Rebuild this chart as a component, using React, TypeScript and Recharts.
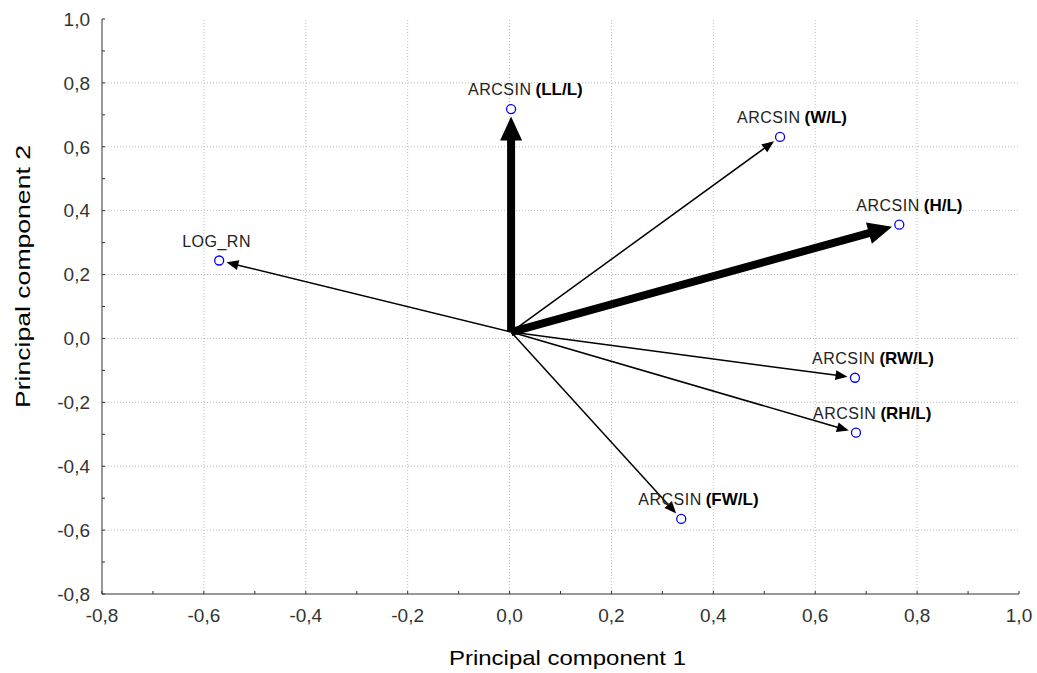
import React from 'react';
import { ScatterChart, Scatter, XAxis, YAxis, ReferenceLine, Label } from 'recharts';

const FONT = 'Arial, "Liberation Sans", sans-serif';

// loadings on the first two principal components
const labelPrefix = ['ARCSIN', 'ARCSIN', 'ARCSIN', 'LOG_RN', 'ARCSIN', 'ARCSIN', 'ARCSIN'];
const labelSuffix = ['(LL/L)', '(W/L)', '(H/L)', '', '(RW/L)', '(RH/L)', '(FW/L)'];
const pc1 = [0.003, 0.531, 0.765, -0.57, 0.678, 0.68, 0.337];
const pc2 = [0.718, 0.631, 0.356, 0.244, -0.123, -0.295, -0.565];
const strongVector = [true, false, true, false, false, false, false];

const vectorOrigin = { x: 0.003, y: 0.02 };

const axisTicks = [-0.8, -0.7, -0.6, -0.5, -0.4, -0.3, -0.2, -0.1, 0, 0.1, 0.2, 0.3, 0.4, 0.5, 0.6, 0.7, 0.8, 0.9, 1.0];
const gridValues = [-0.6, -0.4, -0.2, 0, 0.2, 0.4, 0.6, 0.8];

const points = pc1.map((x, i) => ({
  x,
  y: pc2[i],
  prefix: labelPrefix[i],
  suffix: labelSuffix[i],
  strong: strongVector[i],
}));

const fmt = (v: number) => {
  const k = Math.round(v * 10);
  if (k % 2 !== 0) return '';
  return (k / 10).toFixed(1).replace('.', ',');
};

const Arrow = (props: any) => {
  const { x1, y1, x2, y2, strokeWidth } = props;
  const thick = Number(strokeWidth) > 3;
  const dx = x2 - x1;
  const dy = y2 - y1;
  const len = Math.hypot(dx, dy) || 1;
  const ux = dx / len;
  const uy = dy / len;
  const gap = 7.5;
  const head = thick ? 24 : 12;
  const half = thick ? 11 : 5;
  const tipX = x2 - ux * gap;
  const tipY = y2 - uy * gap;
  const bx = tipX - ux * head;
  const by = tipY - uy * head;
  const px = -uy;
  const py = ux;
  return (
    <g>
      <line x1={x1} y1={y1} x2={bx + ux} y2={by + uy} stroke="#000" strokeWidth={strokeWidth} />
      <polygon
        points={`${tipX},${tipY} ${bx + px * half},${by + py * half} ${bx - px * half},${by - py * half}`}
        fill="#000"
      />
    </g>
  );
};

const VectorPoint = (props: any) => {
  const { cx, cy, payload } = props;
  const hasSuffix = payload.suffix !== '';
  return (
    <g>
      <circle cx={cx} cy={cy} r={4.5} fill="#fff" stroke="#0000ff" strokeWidth={1.3} />
      <text
        x={cx - (hasSuffix ? 43 : 37)}
        y={cy - 14}
        fontFamily={FONT}
        fontSize={16}
        letterSpacing={0.5}
        fill="#222"
      >
        {payload.prefix}
        {hasSuffix && (
          <tspan dx={4} fontWeight="bold" fontSize={17} letterSpacing={0} fill="#000">
            {payload.suffix}
          </tspan>
        )}
      </text>
    </g>
  );
};

const XTitle = (p: any) => {
  const vb = p.viewBox;
  return (
    <text
      x={vb.x + vb.width / 2 + 7}
      y={vb.y + vb.height - 8}
      textAnchor="middle"
      fontFamily={FONT}
      fontSize={21}
      textLength={237}
      lengthAdjust="spacingAndGlyphs"
      fill="#000"
    >
      Principal component 1
    </text>
  );
};

const YTitle = (p: any) => {
  const vb = p.viewBox;
  const x = vb.x + 30;
  const y = vb.y + vb.height / 2 - 30;
  return (
    <text
      x={x}
      y={y}
      transform={`rotate(-90, ${x}, ${y})`}
      textAnchor="middle"
      fontFamily={FONT}
      fontSize={21}
      textLength={263}
      lengthAdjust="spacingAndGlyphs"
      fill="#000"
    >
      Principal component 2
    </text>
  );
};

const tickStyle = { fill: '#333', fontSize: 19, fontFamily: FONT };

export default function App() {
  return (
    <div style={{ position: 'absolute', left: 0, top: 0, background: '#fff' }}>
      <ScatterChart width={1037} height={673} margin={{ top: 19, right: 18, bottom: 0, left: 0 }}>
        <XAxis
          type="number"
          dataKey="x"
          domain={[-0.8, 1]}
          ticks={axisTicks}
          interval={0}
          tickFormatter={fmt}
          tickSize={-3}
          tickMargin={18}
          height={79}
          stroke="#333"
          tick={tickStyle}
          allowDataOverflow
        >
          <Label content={XTitle} />
        </XAxis>
        <YAxis
          type="number"
          dataKey="y"
          domain={[-0.8, 1]}
          ticks={axisTicks}
          interval={0}
          tickFormatter={fmt}
          tickSize={-3}
          tickMargin={15}
          width={102}
          stroke="#333"
          tick={tickStyle}
          allowDataOverflow
        >
          <Label content={YTitle} />
        </YAxis>
        <XAxis
          xAxisId="top"
          orientation="top"
          type="number"
          domain={[-0.8, 1]}
          ticks={axisTicks}
          interval={0}
          tick={false}
          tickSize={-3}
          height={0}
          stroke="#333"
          allowDataOverflow
        />
        <YAxis
          yAxisId="right"
          orientation="right"
          type="number"
          domain={[-0.8, 1]}
          ticks={axisTicks}
          interval={0}
          tick={false}
          tickSize={-3}
          width={0}
          stroke="#333"
          allowDataOverflow
        />
        {gridValues.map((v) => (
          <ReferenceLine key={`gx${v}`} x={v} stroke="#bdbdbd" strokeDasharray="1 2" />
        ))}
        {gridValues.map((v) => (
          <ReferenceLine key={`gy${v}`} y={v} stroke="#bdbdbd" strokeDasharray="1 2" />
        ))}
        {points.map((p) => (
          <ReferenceLine
            key={`v${p.prefix}${p.suffix}`}
            segment={[vectorOrigin, { x: p.x, y: p.y }]}
            stroke="#000"
            strokeWidth={p.strong ? 8 : 1.5}
            shape={Arrow}
          />
        ))}
        <Scatter data={points} shape={VectorPoint} isAnimationActive={false} />
      </ScatterChart>
    </div>
  );
}
